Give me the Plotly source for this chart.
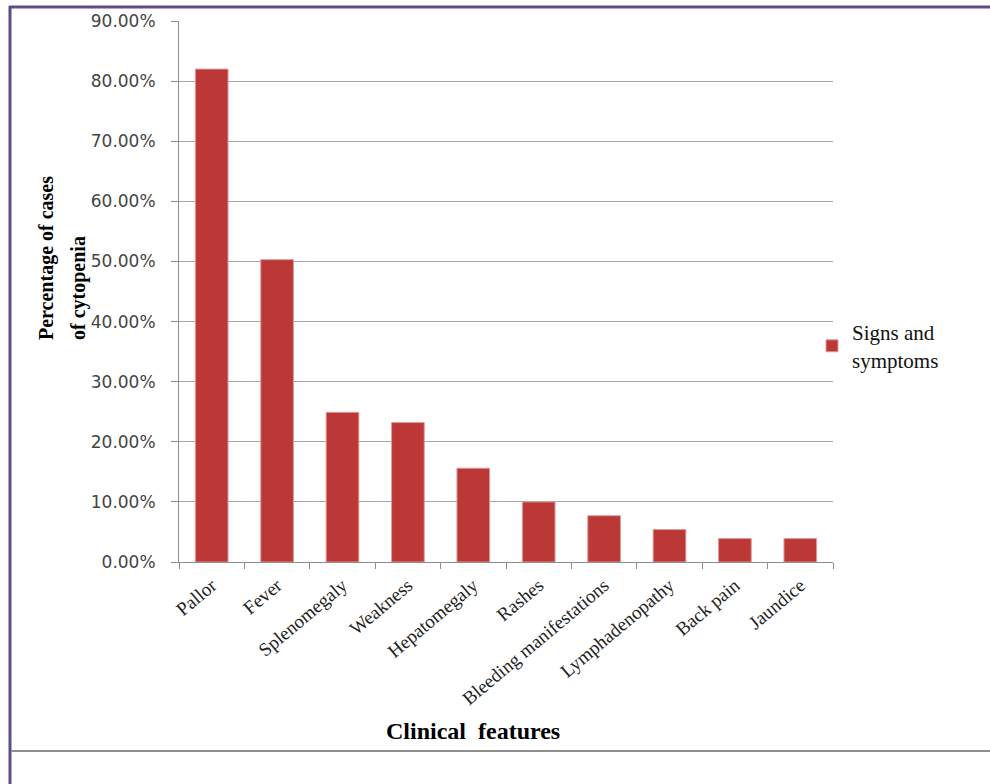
import plotly.graph_objects as go

categories = ["Pallor", "Fever", "Splenomegaly", "Weakness", "Hepatomegaly", "Rashes",
              "Bleeding manifestations", "Lymphadenopathy", "Back pain", "Jaundice"]
values = [0.820, 0.503, 0.249, 0.232, 0.156, 0.100, 0.077, 0.054, 0.039, 0.039]
series_name = "Signs and<br>symptoms"
y_ticks = [0.0, 0.1, 0.2, 0.3, 0.4, 0.5, 0.6, 0.7, 0.8, 0.9]

W, H = 990, 784
L, R, T, B = 179, 833, 21, 562  # plot area in px


def px(xp):
    return (xp - L) / (R - L)


def py(yp):
    return (B - yp) / (B - T)


fig = go.Figure()
fig.add_trace(go.Bar(
    x=categories, y=values, name=series_name, width=0.5,
    marker=dict(color="#BC3836", line=dict(color="#DE9C9B", width=1)),
    showlegend=True,
))

serif = "Liberation Serif, Times New Roman, serif"

fig.update_layout(
    width=W, height=H,
    margin=dict(l=L, r=W - R, t=T, b=H - B, pad=0),
    paper_bgcolor="white", plot_bgcolor="white",
    showlegend=True,
    legend=dict(x=px(812), xanchor="left", y=py(312), yanchor="top",
                font=dict(family=serif, size=21, color="#111"),
                bgcolor="rgba(0,0,0,0)", itemwidth=30, tracegroupgap=0),
    xaxis=dict(
        tickangle=-40, tickfont=dict(family=serif, size=19, color="#222"),
        showline=True, linecolor="#8C8C8C", linewidth=1,
        ticks="outside", tickson="boundaries", ticklen=6, tickcolor="#8C8C8C",
        showgrid=False, range=[-0.5, 9.5], ticklabelstandoff=4,
    ),
    yaxis=dict(
        range=[0, 0.9], tickvals=y_ticks, tickformat=".2%",
        tickfont=dict(family="DejaVu Sans, Verdana, sans-serif", size=17, color="#444"),
        showline=True, linecolor="#8C8C8C", linewidth=1,
        ticks="outside", ticklen=7, tickcolor="#8C8C8C",
        showgrid=True, gridcolor="#A6A6A6", gridwidth=1,
        zeroline=False, ticklabelstandoff=12,
    ),
    annotations=[
        dict(text="<b>Percentage of cases</b>", textangle=-90, xref="paper", yref="paper",
             x=px(46), y=py(342), xanchor="center", yanchor="bottom", showarrow=False,
             font=dict(family=serif, size=20, color="#000")),
        dict(text="<b>of cytopenia</b>", textangle=-90, xref="paper", yref="paper",
             x=px(78), y=py(342), xanchor="center", yanchor="bottom", showarrow=False,
             font=dict(family=serif, size=20, color="#000")),
        dict(text="<b>Clinical  features</b>", xref="paper", yref="paper",
             x=px(473), y=py(731), xanchor="center", yanchor="middle", showarrow=False,
             font=dict(family=serif, size=24, color="#000")),
    ],
    shapes=[
        dict(type="line", xref="paper", yref="paper", x0=px(10), x1=px(10), y0=py(6), y1=py(790),
             line=dict(color="#5E4B8B", width=3)),
        dict(type="line", xref="paper", yref="paper", x0=px(9), x1=px(995), y0=py(7), y1=py(7),
             line=dict(color="#5E4B8B", width=3)),
        dict(type="line", xref="paper", yref="paper", x0=px(11), x1=px(995), y0=py(751), y1=py(751),
             line=dict(color="#8E8E8E", width=2)),
    ],
)

fig.write_html("out.html")
